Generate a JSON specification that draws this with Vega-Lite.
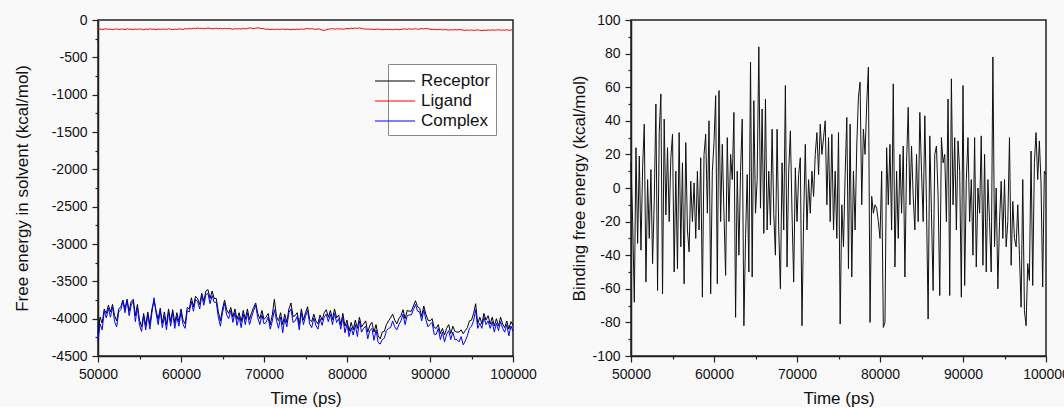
{
"$schema": "https://vega.github.io/schema/vega-lite/v6.json",
"background": "#f9f9f9",
"padding": {"left": 12, "top": 12, "right": 0, "bottom": 0},
"spacing": 32,
"config": {
  "font": "Liberation Sans",
  "view": {"stroke": "#222222", "strokeWidth": 1.5},
  "axis": {"grid": false, "domainColor": "#222222", "domainWidth": 1.5, "tickColor": "#222222", "tickWidth": 1.2, "labelFont": "Liberation Sans", "labelFontSize": 14, "labelColor": "#111111", "titleFont": "Liberation Sans", "titleFontSize": 17, "titleFontWeight": "normal", "titleColor": "#111111", "labelFlush": false, "labelOverlap": false}
},
"datasets": {
"solv": [
{"t":50000,"Receptor":-4200,"Ligand":-125,"Complex":-4300},
{"t":50250,"Receptor":-3980,"Ligand":-120,"Complex":-4070},
{"t":50500,"Receptor":-4060,"Ligand":-128,"Complex":-4150},
{"t":50750,"Receptor":-3870,"Ligand":-122,"Complex":-3900},
{"t":51000,"Receptor":-3930,"Ligand":-118,"Complex":-3990},
{"t":51250,"Receptor":-3820,"Ligand":-126,"Complex":-3860},
{"t":51500,"Receptor":-3910,"Ligand":-121,"Complex":-3980},
{"t":51750,"Receptor":-3810,"Ligand":-130,"Complex":-3840},
{"t":52000,"Receptor":-3960,"Ligand":-124,"Complex":-4040},
{"t":52250,"Receptor":-4030,"Ligand":-119,"Complex":-4110},
{"t":52500,"Receptor":-3870,"Ligand":-127,"Complex":-3910},
{"t":52750,"Receptor":-3840,"Ligand":-123,"Complex":-3880},
{"t":53000,"Receptor":-3750,"Ligand":-121,"Complex":-3770},
{"t":53250,"Receptor":-3870,"Ligand":-128,"Complex":-3920},
{"t":53500,"Receptor":-3740,"Ligand":-117,"Complex":-3750},
{"t":53750,"Receptor":-3900,"Ligand":-125,"Complex":-3960},
{"t":54000,"Receptor":-3770,"Ligand":-122,"Complex":-3820},
{"t":54250,"Receptor":-3740,"Ligand":-130,"Complex":-3760},
{"t":54500,"Receptor":-3960,"Ligand":-120,"Complex":-4040},
{"t":54750,"Receptor":-3810,"Ligand":-126,"Complex":-3850},
{"t":55000,"Receptor":-4020,"Ligand":-119,"Complex":-4090},
{"t":55250,"Receptor":-4110,"Ligand":-124,"Complex":-4170},
{"t":55500,"Receptor":-3930,"Ligand":-131,"Complex":-3970},
{"t":55750,"Receptor":-4090,"Ligand":-121,"Complex":-4150},
{"t":56000,"Receptor":-3910,"Ligand":-127,"Complex":-3950},
{"t":56250,"Receptor":-4080,"Ligand":-118,"Complex":-4140},
{"t":56500,"Receptor":-3870,"Ligand":-125,"Complex":-3920},
{"t":56750,"Receptor":-3760,"Ligand":-122,"Complex":-3720},
{"t":57000,"Receptor":-3890,"Ligand":-129,"Complex":-3930},
{"t":57250,"Receptor":-4010,"Ligand":-120,"Complex":-4080},
{"t":57500,"Receptor":-3860,"Ligand":-126,"Complex":-3890},
{"t":57750,"Receptor":-4060,"Ligand":-123,"Complex":-4120},
{"t":58000,"Receptor":-3910,"Ligand":-121,"Complex":-3970},
{"t":58250,"Receptor":-4080,"Ligand":-127,"Complex":-4150},
{"t":58500,"Receptor":-3870,"Ligand":-118,"Complex":-3910},
{"t":58750,"Receptor":-4040,"Ligand":-124,"Complex":-4100},
{"t":59000,"Receptor":-3880,"Ligand":-130,"Complex":-3920},
{"t":59250,"Receptor":-4060,"Ligand":-122,"Complex":-4130},
{"t":59500,"Receptor":-3920,"Ligand":-126,"Complex":-3970},
{"t":59750,"Receptor":-4040,"Ligand":-119,"Complex":-4100},
{"t":60000,"Receptor":-3870,"Ligand":-123,"Complex":-3910},
{"t":60250,"Receptor":-4020,"Ligand":-128,"Complex":-4080},
{"t":60500,"Receptor":-4070,"Ligand":-115,"Complex":-4130},
{"t":60750,"Receptor":-3850,"Ligand":-121,"Complex":-3890},
{"t":61000,"Receptor":-3870,"Ligand":-112,"Complex":-3910},
{"t":61250,"Receptor":-3720,"Ligand":-118,"Complex":-3770},
{"t":61500,"Receptor":-3840,"Ligand":-110,"Complex":-3900},
{"t":61750,"Receptor":-3700,"Ligand":-116,"Complex":-3740},
{"t":62000,"Receptor":-3730,"Ligand":-108,"Complex":-3770},
{"t":62250,"Receptor":-3810,"Ligand":-114,"Complex":-3870},
{"t":62500,"Receptor":-3660,"Ligand":-111,"Complex":-3690},
{"t":62750,"Receptor":-3770,"Ligand":-117,"Complex":-3820},
{"t":63000,"Receptor":-3630,"Ligand":-113,"Complex":-3680},
{"t":63250,"Receptor":-3610,"Ligand":-106,"Complex":-3660},
{"t":63500,"Receptor":-3730,"Ligand":-112,"Complex":-3800},
{"t":63750,"Receptor":-3630,"Ligand":-118,"Complex":-3690},
{"t":64000,"Receptor":-3730,"Ligand":-115,"Complex":-3780},
{"t":64250,"Receptor":-3730,"Ligand":-109,"Complex":-3780},
{"t":64500,"Receptor":-3910,"Ligand":-117,"Complex":-3980},
{"t":64750,"Receptor":-4030,"Ligand":-112,"Complex":-4100},
{"t":65000,"Receptor":-3870,"Ligand":-119,"Complex":-3920},
{"t":65250,"Receptor":-3750,"Ligand":-111,"Complex":-3790},
{"t":65500,"Receptor":-3880,"Ligand":-116,"Complex":-3950},
{"t":65750,"Receptor":-3930,"Ligand":-113,"Complex":-4000},
{"t":66000,"Receptor":-3850,"Ligand":-118,"Complex":-3890},
{"t":66250,"Receptor":-3980,"Ligand":-124,"Complex":-4050},
{"t":66500,"Receptor":-3870,"Ligand":-115,"Complex":-3920},
{"t":66750,"Receptor":-4010,"Ligand":-120,"Complex":-4090},
{"t":67000,"Receptor":-3920,"Ligand":-117,"Complex":-3970},
{"t":67250,"Receptor":-4040,"Ligand":-122,"Complex":-4120},
{"t":67500,"Receptor":-3890,"Ligand":-113,"Complex":-3940},
{"t":67750,"Receptor":-4010,"Ligand":-119,"Complex":-4080},
{"t":68000,"Receptor":-3870,"Ligand":-112,"Complex":-3920},
{"t":68250,"Receptor":-4010,"Ligand":-106,"Complex":-4080},
{"t":68500,"Receptor":-3920,"Ligand":-110,"Complex":-3980},
{"t":68750,"Receptor":-3850,"Ligand":-116,"Complex":-3890},
{"t":69000,"Receptor":-3790,"Ligand":-109,"Complex":-3820},
{"t":69250,"Receptor":-3930,"Ligand":-104,"Complex":-3990},
{"t":69500,"Receptor":-4000,"Ligand":-111,"Complex":-4080},
{"t":69750,"Receptor":-3890,"Ligand":-115,"Complex":-3950},
{"t":70000,"Receptor":-4010,"Ligand":-118,"Complex":-4070},
{"t":70250,"Receptor":-3980,"Ligand":-126,"Complex":-4050},
{"t":70500,"Receptor":-3930,"Ligand":-121,"Complex":-3980},
{"t":70750,"Receptor":-4080,"Ligand":-130,"Complex":-4140},
{"t":71000,"Receptor":-3950,"Ligand":-124,"Complex":-4030},
{"t":71250,"Receptor":-3740,"Ligand":-128,"Complex":-3880},
{"t":71500,"Receptor":-3970,"Ligand":-122,"Complex":-4020},
{"t":71750,"Receptor":-4030,"Ligand":-127,"Complex":-4130},
{"t":72000,"Receptor":-3920,"Ligand":-125,"Complex":-3980},
{"t":72250,"Receptor":-4080,"Ligand":-120,"Complex":-4190},
{"t":72500,"Receptor":-3940,"Ligand":-128,"Complex":-4000},
{"t":72750,"Receptor":-4050,"Ligand":-123,"Complex":-4110},
{"t":73000,"Receptor":-3870,"Ligand":-126,"Complex":-3920},
{"t":73250,"Receptor":-3790,"Ligand":-131,"Complex":-3870},
{"t":73500,"Receptor":-3970,"Ligand":-124,"Complex":-4050},
{"t":73750,"Receptor":-3960,"Ligand":-128,"Complex":-4030},
{"t":74000,"Receptor":-3920,"Ligand":-122,"Complex":-3970},
{"t":74250,"Receptor":-4080,"Ligand":-127,"Complex":-4150},
{"t":74500,"Receptor":-3870,"Ligand":-120,"Complex":-3920},
{"t":74750,"Receptor":-4020,"Ligand":-125,"Complex":-4080},
{"t":75000,"Receptor":-3920,"Ligand":-118,"Complex":-3970},
{"t":75250,"Receptor":-3840,"Ligand":-113,"Complex":-3890},
{"t":75500,"Receptor":-4010,"Ligand":-119,"Complex":-4070},
{"t":75750,"Receptor":-4040,"Ligand":-116,"Complex":-4120},
{"t":76000,"Receptor":-3940,"Ligand":-121,"Complex":-3990},
{"t":76250,"Receptor":-4030,"Ligand":-126,"Complex":-4090},
{"t":76500,"Receptor":-4070,"Ligand":-119,"Complex":-4140},
{"t":76750,"Receptor":-3950,"Ligand":-124,"Complex":-4000},
{"t":77000,"Receptor":-4020,"Ligand":-135,"Complex":-4090},
{"t":77250,"Receptor":-3920,"Ligand":-142,"Complex":-3980},
{"t":77500,"Receptor":-3880,"Ligand":-128,"Complex":-3940},
{"t":77750,"Receptor":-3980,"Ligand":-124,"Complex":-4040},
{"t":78000,"Receptor":-3890,"Ligand":-120,"Complex":-3940},
{"t":78250,"Receptor":-4010,"Ligand":-116,"Complex":-4080},
{"t":78500,"Receptor":-3870,"Ligand":-122,"Complex":-3930},
{"t":78750,"Receptor":-3990,"Ligand":-118,"Complex":-4050},
{"t":79000,"Receptor":-3950,"Ligand":-121,"Complex":-4000},
{"t":79250,"Receptor":-4080,"Ligand":-117,"Complex":-4140},
{"t":79500,"Receptor":-3930,"Ligand":-124,"Complex":-3980},
{"t":79750,"Receptor":-4100,"Ligand":-119,"Complex":-4190},
{"t":80000,"Receptor":-4020,"Ligand":-113,"Complex":-4070},
{"t":80250,"Receptor":-4170,"Ligand":-118,"Complex":-4240},
{"t":80500,"Receptor":-4050,"Ligand":-110,"Complex":-4120},
{"t":80750,"Receptor":-4150,"Ligand":-115,"Complex":-4220},
{"t":81000,"Receptor":-4020,"Ligand":-108,"Complex":-4080},
{"t":81250,"Receptor":-4130,"Ligand":-112,"Complex":-4240},
{"t":81500,"Receptor":-3980,"Ligand":-106,"Complex":-4030},
{"t":81750,"Receptor":-4110,"Ligand":-114,"Complex":-4180},
{"t":82000,"Receptor":-4070,"Ligand":-118,"Complex":-4130},
{"t":82250,"Receptor":-4030,"Ligand":-123,"Complex":-4100},
{"t":82500,"Receptor":-4180,"Ligand":-120,"Complex":-4270},
{"t":82750,"Receptor":-4090,"Ligand":-125,"Complex":-4160},
{"t":83000,"Receptor":-4050,"Ligand":-122,"Complex":-4130},
{"t":83250,"Receptor":-4180,"Ligand":-128,"Complex":-4290},
{"t":83500,"Receptor":-4080,"Ligand":-124,"Complex":-4150},
{"t":83750,"Receptor":-4230,"Ligand":-121,"Complex":-4320},
{"t":84000,"Receptor":-4270,"Ligand":-126,"Complex":-4340},
{"t":84250,"Receptor":-4180,"Ligand":-131,"Complex":-4280},
{"t":84500,"Receptor":-4170,"Ligand":-127,"Complex":-4260},
{"t":84750,"Receptor":-4080,"Ligand":-124,"Complex":-4160},
{"t":85000,"Receptor":-4030,"Ligand":-129,"Complex":-4130},
{"t":85250,"Receptor":-3990,"Ligand":-125,"Complex":-4120},
{"t":85500,"Receptor":-3940,"Ligand":-132,"Complex":-4030},
{"t":85750,"Receptor":-4020,"Ligand":-127,"Complex":-4110},
{"t":86000,"Receptor":-4070,"Ligand":-124,"Complex":-4150},
{"t":86250,"Receptor":-4000,"Ligand":-130,"Complex":-4080},
{"t":86500,"Receptor":-3960,"Ligand":-126,"Complex":-4030},
{"t":86750,"Receptor":-3880,"Ligand":-122,"Complex":-3940},
{"t":87000,"Receptor":-4000,"Ligand":-120,"Complex":-4080},
{"t":87250,"Receptor":-3890,"Ligand":-125,"Complex":-3960},
{"t":87500,"Receptor":-3900,"Ligand":-118,"Complex":-3950},
{"t":87750,"Receptor":-3900,"Ligand":-123,"Complex":-3950},
{"t":88000,"Receptor":-3830,"Ligand":-121,"Complex":-3880},
{"t":88250,"Receptor":-3760,"Ligand":-117,"Complex":-3810},
{"t":88500,"Receptor":-3840,"Ligand":-124,"Complex":-3900},
{"t":88750,"Receptor":-3860,"Ligand":-119,"Complex":-3910},
{"t":89000,"Receptor":-3970,"Ligand":-115,"Complex":-4030},
{"t":89250,"Receptor":-3830,"Ligand":-120,"Complex":-3880},
{"t":89500,"Receptor":-3940,"Ligand":-112,"Complex":-4010},
{"t":89750,"Receptor":-4020,"Ligand":-118,"Complex":-4110},
{"t":90000,"Receptor":-4030,"Ligand":-122,"Complex":-4080},
{"t":90250,"Receptor":-4000,"Ligand":-127,"Complex":-4050},
{"t":90500,"Receptor":-4120,"Ligand":-124,"Complex":-4210},
{"t":90750,"Receptor":-4130,"Ligand":-130,"Complex":-4210},
{"t":91000,"Receptor":-4080,"Ligand":-128,"Complex":-4130},
{"t":91250,"Receptor":-4200,"Ligand":-125,"Complex":-4280},
{"t":91500,"Receptor":-4130,"Ligand":-133,"Complex":-4180},
{"t":91750,"Receptor":-4220,"Ligand":-129,"Complex":-4310},
{"t":92000,"Receptor":-4130,"Ligand":-131,"Complex":-4210},
{"t":92250,"Receptor":-4080,"Ligand":-136,"Complex":-4160},
{"t":92500,"Receptor":-4200,"Ligand":-130,"Complex":-4280},
{"t":92750,"Receptor":-4100,"Ligand":-134,"Complex":-4180},
{"t":93000,"Receptor":-4170,"Ligand":-129,"Complex":-4280},
{"t":93250,"Receptor":-4180,"Ligand":-134,"Complex":-4280},
{"t":93500,"Receptor":-4180,"Ligand":-128,"Complex":-4310},
{"t":93750,"Receptor":-4150,"Ligand":-132,"Complex":-4240},
{"t":94000,"Receptor":-4200,"Ligand":-135,"Complex":-4350},
{"t":94250,"Receptor":-4160,"Ligand":-140,"Complex":-4300},
{"t":94500,"Receptor":-4120,"Ligand":-133,"Complex":-4230},
{"t":94750,"Receptor":-4030,"Ligand":-138,"Complex":-4130},
{"t":95000,"Receptor":-4020,"Ligand":-134,"Complex":-4100},
{"t":95250,"Receptor":-3930,"Ligand":-139,"Complex":-4030},
{"t":95500,"Receptor":-3800,"Ligand":-136,"Complex":-3880},
{"t":95750,"Receptor":-4070,"Ligand":-132,"Complex":-4130},
{"t":96000,"Receptor":-3980,"Ligand":-138,"Complex":-4060},
{"t":96250,"Receptor":-4070,"Ligand":-143,"Complex":-4130},
{"t":96500,"Receptor":-3930,"Ligand":-135,"Complex":-3980},
{"t":96750,"Receptor":-4020,"Ligand":-140,"Complex":-4080},
{"t":97000,"Receptor":-3960,"Ligand":-133,"Complex":-4030},
{"t":97250,"Receptor":-4070,"Ligand":-138,"Complex":-4130},
{"t":97500,"Receptor":-3980,"Ligand":-131,"Complex":-4040},
{"t":97750,"Receptor":-4100,"Ligand":-136,"Complex":-4180},
{"t":98000,"Receptor":-4000,"Ligand":-134,"Complex":-4060},
{"t":98250,"Receptor":-4100,"Ligand":-130,"Complex":-4160},
{"t":98500,"Receptor":-3980,"Ligand":-137,"Complex":-4040},
{"t":98750,"Receptor":-4070,"Ligand":-133,"Complex":-4130},
{"t":99000,"Receptor":-4120,"Ligand":-135,"Complex":-4180},
{"t":99250,"Receptor":-4030,"Ligand":-131,"Complex":-4080},
{"t":99500,"Receptor":-4140,"Ligand":-138,"Complex":-4230},
{"t":99750,"Receptor":-4040,"Ligand":-134,"Complex":-4100},
{"t":100000,"Receptor":-4090,"Ligand":-133,"Complex":-4170}
],
"bind": [
{"t":50000,"dG":15},{"t":50200,"dG":-20},{"t":50400,"dG":-68},{"t":50600,"dG":24},{"t":50800,"dG":-33},
{"t":51000,"dG":19},{"t":51200,"dG":-37},{"t":51400,"dG":12},{"t":51600,"dG":38},{"t":51800,"dG":-56},
{"t":52000,"dG":5},{"t":52200,"dG":-30},{"t":52400,"dG":11},{"t":52600,"dG":-45},{"t":52800,"dG":-8},
{"t":53000,"dG":50},{"t":53200,"dG":-61},{"t":53400,"dG":33},{"t":53600,"dG":56},{"t":53800,"dG":-63},
{"t":54000,"dG":41},{"t":54200,"dG":-16},{"t":54400,"dG":24},{"t":54600,"dG":-20},{"t":54800,"dG":18},
{"t":55000,"dG":32},{"t":55200,"dG":-50},{"t":55400,"dG":10},{"t":55600,"dG":-48},{"t":55800,"dG":33},
{"t":56000,"dG":-35},{"t":56200,"dG":15},{"t":56400,"dG":-57},{"t":56600,"dG":27},{"t":56800,"dG":-25},
{"t":57000,"dG":-38},{"t":57200,"dG":4},{"t":57400,"dG":-20},{"t":57600,"dG":3},{"t":57800,"dG":-30},
{"t":58000,"dG":10},{"t":58200,"dG":-25},{"t":58400,"dG":18},{"t":58600,"dG":-65},{"t":58800,"dG":20},
{"t":59000,"dG":32},{"t":59200,"dG":-15},{"t":59400,"dG":40},{"t":59600,"dG":-63},{"t":59800,"dG":10},
{"t":60000,"dG":27},{"t":60200,"dG":55},{"t":60400,"dG":-57},{"t":60600,"dG":58},{"t":60800,"dG":-20},
{"t":61000,"dG":26},{"t":61200,"dG":-15},{"t":61400,"dG":-52},{"t":61600,"dG":30},{"t":61800,"dG":-20},
{"t":62000,"dG":20},{"t":62200,"dG":5},{"t":62400,"dG":45},{"t":62600,"dG":-77},{"t":62800,"dG":10},
{"t":63000,"dG":-40},{"t":63200,"dG":10},{"t":63400,"dG":41},{"t":63600,"dG":-82},{"t":63800,"dG":-30},
{"t":64000,"dG":8},{"t":64200,"dG":-50},{"t":64400,"dG":75},{"t":64600,"dG":-53},{"t":64800,"dG":52},
{"t":65000,"dG":-15},{"t":65200,"dG":5},{"t":65400,"dG":84},{"t":65600,"dG":-12},{"t":65800,"dG":47},
{"t":66000,"dG":-27},{"t":66200,"dG":53},{"t":66400,"dG":-25},{"t":66600,"dG":10},{"t":66800,"dG":-22},
{"t":67000,"dG":35},{"t":67200,"dG":-15},{"t":67400,"dG":-40},{"t":67600,"dG":35},{"t":67800,"dG":-25},
{"t":68000,"dG":-60},{"t":68200,"dG":15},{"t":68400,"dG":-25},{"t":68600,"dG":61},{"t":68800,"dG":-47},
{"t":69000,"dG":10},{"t":69200,"dG":34},{"t":69400,"dG":-15},{"t":69600,"dG":-56},{"t":69800,"dG":12},
{"t":70000,"dG":-20},{"t":70200,"dG":8},{"t":70400,"dG":18},{"t":70600,"dG":-82},{"t":70800,"dG":-18},
{"t":71000,"dG":26},{"t":71200,"dG":-25},{"t":71400,"dG":5},{"t":71600,"dG":-15},{"t":71800,"dG":10},
{"t":72000,"dG":-5},{"t":72200,"dG":20},{"t":72400,"dG":33},{"t":72600,"dG":8},{"t":72800,"dG":38},
{"t":73000,"dG":20},{"t":73200,"dG":30},{"t":73400,"dG":40},{"t":73600,"dG":-10},{"t":73800,"dG":30},
{"t":74000,"dG":-20},{"t":74200,"dG":32},{"t":74400,"dG":-25},{"t":74600,"dG":10},{"t":74800,"dG":-30},
{"t":75000,"dG":33},{"t":75200,"dG":-81},{"t":75400,"dG":-10},{"t":75600,"dG":-35},{"t":75800,"dG":8},
{"t":76000,"dG":42},{"t":76200,"dG":-48},{"t":76400,"dG":38},{"t":76600,"dG":-53},{"t":76800,"dG":10},
{"t":77000,"dG":-25},{"t":77200,"dG":25},{"t":77400,"dG":54},{"t":77600,"dG":63},{"t":77800,"dG":-10},
{"t":78000,"dG":35},{"t":78200,"dG":20},{"t":78400,"dG":50},{"t":78600,"dG":72},{"t":78800,"dG":-80},
{"t":79000,"dG":-5},{"t":79200,"dG":-15},{"t":79400,"dG":-10},{"t":79600,"dG":-12},{"t":79800,"dG":-20},
{"t":80000,"dG":-30},{"t":80200,"dG":10},{"t":80400,"dG":-83},{"t":80600,"dG":-80},{"t":80800,"dG":24},
{"t":81000,"dG":-10},{"t":81200,"dG":26},{"t":81400,"dG":-25},{"t":81600,"dG":62},{"t":81800,"dG":-47},
{"t":82000,"dG":10},{"t":82200,"dG":-30},{"t":82400,"dG":20},{"t":82600,"dG":-15},{"t":82800,"dG":25},
{"t":83000,"dG":-53},{"t":83200,"dG":15},{"t":83400,"dG":48},{"t":83600,"dG":-10},{"t":83800,"dG":25},
{"t":84000,"dG":-5},{"t":84200,"dG":-25},{"t":84400,"dG":20},{"t":84600,"dG":-20},{"t":84800,"dG":45},
{"t":85000,"dG":10},{"t":85200,"dG":-20},{"t":85400,"dG":43},{"t":85600,"dG":-10},{"t":85800,"dG":-78},
{"t":86000,"dG":31},{"t":86200,"dG":-15},{"t":86400,"dG":-61},{"t":86600,"dG":20},{"t":86800,"dG":25},
{"t":87000,"dG":-5},{"t":87200,"dG":-64},{"t":87400,"dG":30},{"t":87600,"dG":15},{"t":87800,"dG":20},
{"t":88000,"dG":-20},{"t":88200,"dG":53},{"t":88400,"dG":-64},{"t":88600,"dG":65},{"t":88800,"dG":-10},
{"t":89000,"dG":30},{"t":89200,"dG":-25},{"t":89400,"dG":28},{"t":89600,"dG":10},{"t":89800,"dG":-65},
{"t":90000,"dG":61},{"t":90200,"dG":-58},{"t":90400,"dG":5},{"t":90600,"dG":30},{"t":90800,"dG":-20},
{"t":91000,"dG":5},{"t":91200,"dG":-40},{"t":91400,"dG":30},{"t":91600,"dG":-47},{"t":91800,"dG":0},
{"t":92000,"dG":-15},{"t":92200,"dG":31},{"t":92400,"dG":-46},{"t":92600,"dG":20},{"t":92800,"dG":-50},
{"t":93000,"dG":5},{"t":93200,"dG":-20},{"t":93400,"dG":-50},{"t":93600,"dG":78},{"t":93800,"dG":-35},
{"t":94000,"dG":0},{"t":94200,"dG":-60},{"t":94400,"dG":-20},{"t":94600,"dG":4},{"t":94800,"dG":-30},
{"t":95000,"dG":5},{"t":95200,"dG":-35},{"t":95400,"dG":-20},{"t":95600,"dG":30},{"t":95800,"dG":-46},
{"t":96000,"dG":-8},{"t":96200,"dG":-30},{"t":96400,"dG":-35},{"t":96600,"dG":-10},{"t":96800,"dG":-40},
{"t":97000,"dG":-71},{"t":97200,"dG":5},{"t":97400,"dG":-73},{"t":97600,"dG":-82},{"t":97800,"dG":-45},
{"t":98000,"dG":-55},{"t":98200,"dG":22},{"t":98400,"dG":-58},{"t":98600,"dG":15},{"t":98800,"dG":33},
{"t":99000,"dG":5},{"t":99200,"dG":28},{"t":99400,"dG":3},{"t":99600,"dG":-59},{"t":99800,"dG":10},
{"t":100000,"dG":8}
]
},
"hconcat": [
{
  "width": 415,
  "height": 336,
  "data": {"name": "solv"},
  "transform": [{"fold": ["Receptor", "Ligand", "Complex"], "as": ["series", "energy"]}],
  "mark": {"type": "line", "strokeWidth": 1},
  "encoding": {
    "x": {"field": "t", "type": "quantitative",
      "scale": {"domain": [50000, 100000], "nice": false, "zero": false},
      "axis": {"title": "Time (ps)", "values": [50000,55000,60000,65000,70000,75000,80000,85000,90000,95000,100000],
        "labelExpr": "datum.value % 10000 === 0 ? '' + datum.value : ''",
        "tickSize": {"condition": {"test": "datum.value % 10000 === 0", "value": 6}, "value": 3},
        "labelPadding": 5, "titlePadding": 9}},
    "y": {"field": "energy", "type": "quantitative",
      "scale": {"domain": [-4500, 0], "nice": false, "zero": false},
      "axis": {"title": "Free energy in solvent (kcal/mol)",
        "values": [0,-250,-500,-750,-1000,-1250,-1500,-1750,-2000,-2250,-2500,-2750,-3000,-3250,-3500,-3750,-4000,-4250,-4500],
        "labelExpr": "datum.value % 500 === 0 ? '' + datum.value : ''",
        "tickSize": {"condition": {"test": "datum.value % 500 === 0", "value": 6}, "value": 3},
        "labelPadding": 5, "titlePadding": 20}},
    "color": {"field": "series", "type": "nominal",
      "scale": {"domain": ["Receptor", "Ligand", "Complex"], "range": ["#000000", "#ff0000", "#0000ff"]},
      "legend": {"title": null, "orient": "none", "legendX": 290, "legendY": 44,
        "strokeColor": "#888888", "fillColor": "#ffffff", "padding": 6,
        "symbolType": "M-3,0H1", "symbolSize": 400, "symbolStrokeWidth": 1.2,
        "labelFont": "Liberation Sans", "labelFontSize": 17, "labelColor": "#111111",
        "labelOffset": 5, "rowPadding": 1}}
  }
},
{
  "width": 415,
  "height": 336,
  "data": {"name": "bind"},
  "mark": {"type": "line", "strokeWidth": 1, "color": "#111111"},
  "encoding": {
    "x": {"field": "t", "type": "quantitative",
      "scale": {"domain": [50000, 100000], "nice": false, "zero": false},
      "axis": {"title": "Time (ps)", "values": [50000,55000,60000,65000,70000,75000,80000,85000,90000,95000,100000],
        "labelExpr": "datum.value % 10000 === 0 ? '' + datum.value : ''",
        "tickSize": {"condition": {"test": "datum.value % 10000 === 0", "value": 6}, "value": 3},
        "labelPadding": 5, "titlePadding": 9}},
    "y": {"field": "dG", "type": "quantitative",
      "scale": {"domain": [-100, 100], "nice": false, "zero": false},
      "axis": {"title": "Binding free energy (kcal/mol)",
        "values": [100,90,80,70,60,50,40,30,20,10,0,-10,-20,-30,-40,-50,-60,-70,-80,-90,-100],
        "labelExpr": "datum.value % 20 === 0 ? '' + datum.value : ''",
        "tickSize": {"condition": {"test": "datum.value % 20 === 0", "value": 6}, "value": 3},
        "labelPadding": 5, "titlePadding": 3}}
  }
}
]
}
